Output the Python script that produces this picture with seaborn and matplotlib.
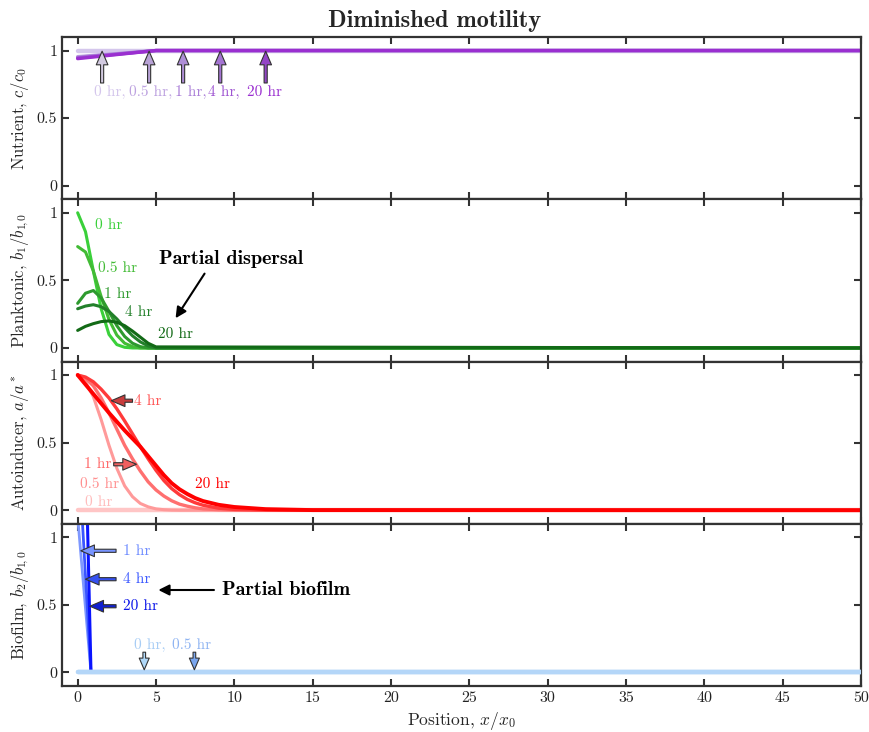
#!/usr/bin/env python3
"""Diminished motility: nutrient, planktonic, autoinducer and biofilm profiles."""

import warnings
warnings.filterwarnings("ignore")

import matplotlib
matplotlib.use("Agg")
import matplotlib.pyplot as plt
import seaborn as sns

# ---- data ----
times = ["0 hr", "0.5 hr", "1 hr", "4 hr", "20 hr"]

x_nut = [0, 1, 2, 3, 4, 5, 50]
nut_0 = [1.0, 1.0, 1.0, 1.0, 1.0, 1.0, 1.0]
nut_05 = [0.955, 0.964, 0.973, 0.982, 0.991, 1.0, 1.0]
nut_1 = [0.95, 0.96, 0.97, 0.98, 0.99, 1.0, 1.0]
nut_4 = [0.945, 0.956, 0.967, 0.978, 0.989, 1.0, 1.0]
nut_20 = [0.94, 0.952, 0.964, 0.976, 0.988, 1.0, 1.0]

x_pl = [0, 0.5, 1, 1.5, 2, 2.5, 3, 3.5, 4, 4.5, 5, 50]
pl_0 = [1.0, 0.86, 0.57, 0.29, 0.10, 0.025, 0.005, 0.0, 0.0, 0.0, 0.0, 0.0]
pl_05 = [0.75, 0.71, 0.57, 0.38, 0.21, 0.095, 0.035, 0.01, 0.0, 0.0, 0.0, 0.0]
pl_1 = [0.33, 0.405, 0.425, 0.37, 0.27, 0.165, 0.085, 0.035, 0.01, 0.0, 0.0, 0.0]
pl_4 = [0.29, 0.31, 0.32, 0.305, 0.27, 0.215, 0.15, 0.09, 0.045, 0.015, 0.0, 0.0]
pl_20 = [0.13, 0.16, 0.18, 0.195, 0.20, 0.19, 0.165, 0.125, 0.08, 0.035, 0.008, 0.0]

x_ai = [0, 0.5, 1, 1.5, 2, 2.5, 3, 3.5, 4, 4.5, 5, 5.5, 6, 6.5, 7, 7.5, 8, 9, 10, 12, 15, 50]
ai_0 = [0.0] * 22
ai_05 = [1.0, 0.95, 0.84, 0.67, 0.48, 0.31, 0.18, 0.10, 0.05, 0.025, 0.01, 0.004, 0.001,
         0.0, 0.0, 0.0, 0.0, 0.0, 0.0, 0.0, 0.0, 0.0]
ai_1 = [1.0, 0.975, 0.92, 0.83, 0.72, 0.60, 0.48, 0.38, 0.29, 0.21, 0.15, 0.105, 0.07,
        0.045, 0.03, 0.018, 0.01, 0.004, 0.001, 0.0, 0.0, 0.0]
ai_4 = [1.0, 0.985, 0.95, 0.895, 0.83, 0.75, 0.66, 0.565, 0.47, 0.38, 0.295, 0.22, 0.16,
        0.115, 0.08, 0.055, 0.037, 0.015, 0.006, 0.001, 0.0, 0.0]
ai_20 = [1.0, 0.93, 0.86, 0.79, 0.72, 0.655, 0.59, 0.53, 0.47, 0.40, 0.33, 0.26, 0.20,
         0.155, 0.12, 0.09, 0.068, 0.04, 0.024, 0.008, 0.001, 0.0]

x_bf = [0, 0.85, 50]
bf_0 = [0.0, 0.0, 0.0]
bf_05 = [0.0, 0.0, 0.0]
bf_1 = [1.15, 0.0, 0.0]
bf_4 = [1.73, 0.0, 0.0]
bf_20 = [4.2, 0.0, 0.0]

x_ticks = [0, 5, 10, 15, 20, 25, 30, 35, 40, 45, 50]
y_ticks = [0, 0.5, 1]
y_tick_labels = ["0", "0.5", "1"]
y_labels = ["Nutrient, $c/c_0$", "Planktonic, $b_1/b_{1\\!,0}$",
            "Autoinducer, $a/a^*$", "Biofilm, $b_2/b_{1\\!,0}$"]

# ---- colours ----
PURPLES = ["#d4c6ec", "#bda2e0", "#ab80d8", "#9f55d2", "#9a2fd0"]
GREENS = ["#3ad03a", "#42bb35", "#2e9a2e", "#22802a", "#126a16"]
REDS = ["#ffc6c6", "#ff9a9a", "#ff7070", "#ff3a3a", "#ff0000"]
BLUES = ["#b4d6f8", "#b4d6f8", "#7e98ff", "#3a55ff", "#0a14ff"]

sns.set_theme(style="ticks")
plt.rcParams.update({
    "font.family": ["cmr10", "DejaVu Serif"],
    "mathtext.fontset": "cm",
    "axes.unicode_minus": False,
    "axes.formatter.use_mathtext": True,
    "axes.edgecolor": "#333333",
    "axes.linewidth": 1.6,
    "xtick.direction": "in",
    "ytick.direction": "in",
    "xtick.major.size": 5,
    "ytick.major.size": 5,
    "xtick.major.width": 1.5,
    "ytick.major.width": 1.5,
    "xtick.color": "#333333",
    "ytick.color": "#333333",
    "xtick.labelcolor": "#222222",
    "ytick.labelcolor": "#222222",
    "xtick.labelsize": 11.5,
    "ytick.labelsize": 11.5,
})

fig, axes = plt.subplots(4, 1, figsize=(8.69, 7.32), dpi=100, sharex=True)
fig.subplots_adjust(left=62 / 869, right=861 / 869, top=1 - 37 / 732,
                    bottom=1 - 686 / 732, hspace=0)


def line(ax, x, y, color, lw=2.2, z=2):
    sns.lineplot(x=x, y=y, color=color, lw=lw, ax=ax, sort=False, zorder=z)


def arrow(ax, tail, head, fc, scale=14):
    ax.annotate("", xy=head, xytext=tail, zorder=5,
                arrowprops=dict(arrowstyle="simple,head_length=0.7,head_width=0.6,tail_width=0.16",
                                fc=fc, ec="#333333", lw=0.8, mutation_scale=scale,
                                shrinkA=0, shrinkB=0))


def black_arrow(ax, tail, head):
    ax.annotate("", xy=head, xytext=tail,
                arrowprops=dict(arrowstyle="-|>", color="black", lw=1.5,
                                mutation_scale=16, shrinkA=0, shrinkB=0))


LABEL_FS = 11
BIG = dict(fontsize=14.5, family="cmb10", color="black", ha="center", va="center")

# ---- panel 1: nutrient ----
ax = axes[0]
line(ax, x_nut, nut_0, PURPLES[0], lw=3.2)
for y, c in zip([nut_05, nut_1, nut_4, nut_20], PURPLES[1:]):
    line(ax, x_nut, y, c, lw=2.4)
nut_arrow_x = [1.56, 4.56, 6.73, 9.1, 12.0]
nut_arrow_fc = ["#d2cae0", "#b8a2d6", "#ae8ed6", "#a474d2", "#9446c6"]
for xa, fc in zip(nut_arrow_x, nut_arrow_fc):
    arrow(ax, (xa, 0.76), (xa, 0.995), fc)
nut_text_x = [2.07, 4.63, 7.2, 9.3, 11.9]
nut_texts = ["0 hr,", "0.5 hr,", "1 hr,", "4 hr,", "20 hr"]
for xt, t, c in zip(nut_text_x, nut_texts, PURPLES):
    ax.text(xt, 0.69, t, color=c, fontsize=LABEL_FS, ha="center", va="center")

# ---- panel 2: planktonic ----
ax = axes[1]
for y, c in zip([pl_0, pl_05, pl_1, pl_4, pl_20], GREENS):
    line(ax, x_pl, y, c, lw=2.2)
pl_text_xy = [(1.95, 0.91), (2.55, 0.59), (2.55, 0.395), (3.9, 0.265), (6.25, 0.10)]
for (xt, yt), t, c in zip(pl_text_xy, times, GREENS):
    ax.text(xt, yt, t, color=c, fontsize=LABEL_FS, ha="center", va="center")
ax.text(9.8, 0.655, "Partial dispersal", **BIG)
black_arrow(ax, (8.1, 0.55), (6.25, 0.22))

# ---- panel 3: autoinducer ----
ax = axes[2]
line(ax, x_ai, ai_0, REDS[0], lw=3.2)
line(ax, x_ai, ai_05, REDS[1], lw=2.2)
line(ax, x_ai, ai_1, REDS[2], lw=2.4)
line(ax, x_ai, ai_4, REDS[3], lw=2.4)
line(ax, x_ai, ai_20, REDS[4], lw=2.8)
ai_text_xy = [(1.35, 0.06), (1.4, 0.19), (1.3, 0.34), (4.5, 0.81), (8.6, 0.19)]
ai_text_c = ["#ffbcbc", "#ff9090", "#ff6a6a", "#ff5555", "#ff0000"]
for (xt, yt), t, c in zip(ai_text_xy, times, ai_text_c):
    ax.text(xt, yt, t, color=c, fontsize=LABEL_FS, ha="center", va="center")
arrow(ax, (2.3, 0.34), (3.75, 0.34), "#f06060")
arrow(ax, (3.5, 0.81), (2.15, 0.81), "#c83c3c")

# ---- panel 4: biofilm ----
ax = axes[3]
line(ax, x_bf, bf_1, BLUES[2], lw=2.0)
line(ax, x_bf, bf_4, BLUES[3], lw=2.0)
line(ax, x_bf, bf_20, BLUES[4], lw=2.2)
line(ax, x_bf, bf_0, BLUES[0], lw=3.2, z=3)
line(ax, x_bf, bf_05, BLUES[1], lw=3.2, z=3)
bf_text_xy = [(3.75, 0.90), (3.75, 0.69), (4.0, 0.49)]
bf_text_c = ["#6f8cff", "#3d5aff", "#0a14e8"]
bf_arrow_fc = ["#7894ff", "#3550f0", "#1020d0"]
bf_tips = [(0.2, 0.90), (0.5, 0.69), (0.78, 0.49)]
for (xt, yt), t, c, fc, tip in zip(bf_text_xy, times[2:], bf_text_c, bf_arrow_fc, bf_tips):
    ax.text(xt, yt, t, color=c, fontsize=LABEL_FS, ha="center", va="center")
    arrow(ax, (2.45, yt), tip, fc)
ax.text(4.6, 0.205, "0 hr,", color="#a8cdf5", fontsize=LABEL_FS, ha="center", va="center")
ax.text(7.25, 0.205, "0.5 hr", color="#8fb4f2", fontsize=LABEL_FS, ha="center", va="center")
arrow(ax, (4.25, 0.15), (4.25, 0.02), "#b0d8f8", scale=12)
arrow(ax, (7.45, 0.15), (7.45, 0.02), "#7aa6ee", scale=12)
ax.text(13.3, 0.61, "Partial biofilm", **BIG)
black_arrow(ax, (8.7, 0.61), (5.15, 0.61))

# ---- axes styling ----
for ax, lab in zip(axes, y_labels):
    ax.set_xlim(-1, 50)
    ax.set_ylim(-0.1, 1.1)
    ax.set_yticks(y_ticks)
    ax.set_yticklabels(y_tick_labels)
    ax.set_xticks(x_ticks)
    ax.tick_params(top=True, right=True)
    ax.set_ylabel(lab, fontsize=12)
    ax.set_xlabel("")
    for s in ax.spines.values():
        s.set_visible(True)

axes[-1].set_xticklabels([str(v) for v in x_ticks])
axes[-1].set_xlabel("Position, $x/x_0$", fontsize=12.5)
fig.suptitle("Diminished motility", fontsize=17.5, family="cmb10", y=0.987)
fig.align_ylabels(axes)

plt.savefig("out.png", dpi=100)
plt.close()
